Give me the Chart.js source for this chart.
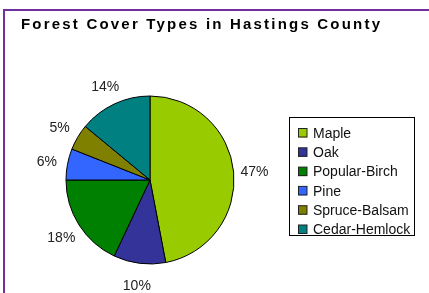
<!DOCTYPE html>
<html>
<head>
<meta charset="utf-8">
<script src="https://cdn.jsdelivr.net/npm/chart.js@4.4.1/dist/chart.umd.min.js"></script>
<style>
  html, body { margin: 0; padding: 0; background: #ffffff; }
  #wrap { position: relative; width: 429px; height: 293px; }
  canvas { display: block; }
</style>
</head>
<body>
<div id="wrap"><canvas id="c" width="429" height="293"></canvas></div>
<script>
const titleText = "Forest Cover Types in Hastings County";
const categories = ["Maple", "Oak", "Popular-Birch", "Pine", "Spruce-Balsam", "Cedar-Hemlock"];
const shares = [47, 10, 18, 6, 5, 14];
const sliceColors = ["#99CC00", "#333399", "#008000", "#3366FF", "#808000", "#008080"];

const framePlugin = {
  id: "frame",
  beforeDraw(chart) {
    const ctx = chart.ctx;
    ctx.save();
    ctx.fillStyle = "#ffffff";
    ctx.fillRect(0, 0, chart.width, chart.height);
    ctx.strokeStyle = "#7030A0";
    ctx.lineWidth = 2;
    ctx.strokeRect(4, 10, chart.width + 10, chart.height + 10);
    ctx.fillStyle = "#000000";
    ctx.font = "bold 15px 'Liberation Sans', Arial, sans-serif";
    ctx.letterSpacing = "2.2px";
    ctx.textBaseline = "alphabetic";
    ctx.textAlign = "left";
    ctx.fillText(titleText, 21, 29);
    ctx.restore();
  }
};

const labelPlugin = {
  id: "pctLabels",
  afterDatasetsDraw(chart) {
    const ctx = chart.ctx;
    const meta = chart.getDatasetMeta(0);
    const data = chart.data.datasets[0].data;
    ctx.save();
    ctx.font = "14px 'Liberation Sans', Arial, sans-serif";
    ctx.fillStyle = "#222222";
    ctx.textAlign = "center";
    ctx.textBaseline = "middle";
    meta.data.forEach((arc, i) => {
      const p = arc.getProps(["x", "y", "startAngle", "endAngle", "outerRadius"], true);
      const mid = (p.startAngle + p.endAngle) / 2;
      const R = p.outerRadius + 21;
      const x = p.x + Math.cos(mid) * R;
      const y = p.y + Math.sin(mid) * R + 2;
      ctx.fillText(data[i] + "%", x, y);
    });
    ctx.restore();

    ctx.save();
    const bx = 289.5, by = 117.5, bw = 125, bh = 118;
    ctx.strokeStyle = "#000000";
    ctx.lineWidth = 1;
    ctx.strokeRect(bx, by, bw, bh);
    ctx.font = "14px 'Liberation Sans', Arial, sans-serif";
    ctx.textAlign = "left";
    ctx.textBaseline = "middle";
    const labels = chart.data.labels;
    const colors = chart.data.datasets[0].backgroundColor;
    labels.forEach((lab, i) => {
      const cy = 133 + i * 19.3;
      ctx.fillStyle = colors[i];
      ctx.fillRect(298, cy - 4.5, 9, 9);
      ctx.strokeStyle = "#222222";
      ctx.strokeRect(298.5, cy - 4.5, 8.5, 8.5);
      ctx.fillStyle = "#111111";
      ctx.fillText(lab, 313, cy + 1);
    });
    ctx.restore();
  }
};

new Chart(document.getElementById("c"), {
  type: "pie",
  data: {
    labels: categories,
    datasets: [{
      data: shares,
      backgroundColor: sliceColors,
      borderColor: "#000000",
      borderWidth: 1,
      radius: 84
    }]
  },
  options: {
    responsive: false,
    animation: false,
    devicePixelRatio: 1,
    layout: { padding: { left: 66, right: 195, top: 96, bottom: 29 } },
    plugins: {
      legend: { display: false },
      title: { display: false },
      tooltip: { enabled: false }
    }
  },
  plugins: [framePlugin, labelPlugin]
});
</script>
</body>
</html>
